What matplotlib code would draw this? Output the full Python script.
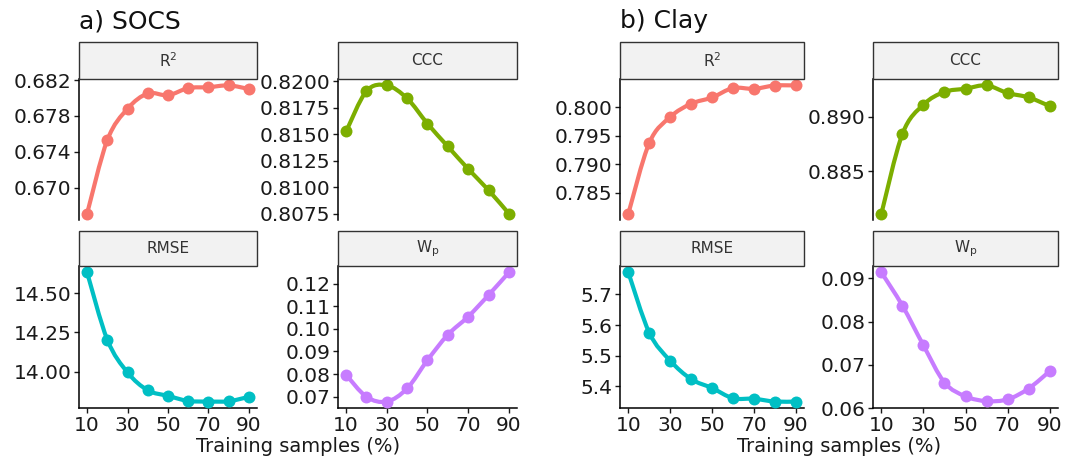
import matplotlib
matplotlib.use("Agg")
import matplotlib.pyplot as plt
from matplotlib.path import Path
from matplotlib.patches import PathPatch, Rectangle
import numpy as np

plt.rcParams["font.family"] = ["DejaVu Sans"]
plt.rcParams["mathtext.default"] = "regular"

W, H = 1065, 462

training_pct = [10, 20, 30, 40, 50, 60, 70, 80, 90]
x_ticks = [10, 30, 50, 70, 90]

# a) SOCS
socs_r2 = [0.6671, 0.6753, 0.6788, 0.6805, 0.6803, 0.6811, 0.6812, 0.6814, 0.6810]
socs_ccc = [0.81525, 0.81905, 0.81959, 0.81836, 0.81598, 0.81383, 0.81171, 0.80971, 0.8075]
socs_rmse = [14.633, 14.203, 13.994, 13.880, 13.844, 13.812, 13.808, 13.810, 13.838]
socs_wp = [0.0797, 0.0700, 0.0679, 0.0737, 0.0862, 0.0974, 0.1054, 0.1149, 0.1249]

# b) Clay
clay_r2 = [0.7813, 0.7937, 0.79825, 0.80058, 0.80168, 0.80333, 0.8032, 0.80378, 0.8038]
clay_ccc = [0.88111, 0.88844, 0.89113, 0.8923, 0.8926, 0.8929, 0.8922, 0.8918, 0.8910]
clay_rmse = [5.771, 5.575, 5.484, 5.424, 5.395, 5.362, 5.360, 5.351, 5.351]
clay_wp = [0.0914, 0.0837, 0.0745, 0.0659, 0.0627, 0.0616, 0.0620, 0.0645, 0.0685]

# y-axis tick values and their label format
socs_r2_ticks = [0.670, 0.674, 0.678, 0.682]
socs_ccc_ticks = [0.8075, 0.8100, 0.8125, 0.8150, 0.8175, 0.8200]
socs_rmse_ticks = [14.00, 14.25, 14.50]
socs_wp_ticks = [0.07, 0.08, 0.09, 0.10, 0.11, 0.12]
clay_r2_ticks = [0.785, 0.790, 0.795, 0.800]
clay_ccc_ticks = [0.885, 0.890]
clay_rmse_ticks = [5.4, 5.5, 5.6, 5.7]
clay_wp_ticks = [0.06, 0.07, 0.08, 0.09]

metric_labels = ["R$^{2}$", "CCC", "RMSE", "W$_{p}$"]
metric_colors = ["#F8766D", "#7CAE00", "#00BFC4", "#C77CFF"]

fig = plt.figure(figsize=(W / 100, H / 100), dpi=100)


def rect(x0, x1, ytop, ybot):
    return [x0 / W, 1 - ybot / H, (x1 - x0) / W, (ybot - ytop) / H]


def smooth_path(xs, ys):
    """Catmull-Rom curve through the points, as cubic Bezier segments."""
    p = np.column_stack([xs, ys]).astype(float)
    ext = np.vstack([p[0], p, p[-1]])
    verts = [p[0]]
    codes = [Path.MOVETO]
    for i in range(len(p) - 1):
        p0, p1, p2, p3 = ext[i], ext[i + 1], ext[i + 2], ext[i + 3]
        c1 = p1 + (p2 - p0) / 6.0
        c2 = p2 - (p3 - p1) / 6.0
        verts += [c1, c2, p2]
        codes += [Path.CURVE4] * 3
    return Path(verts, codes)


def panel(box, strip_h, values, ticks, fmt, label, color, bottom_row):
    ax = fig.add_axes(rect(*box))
    lo, hi = min(values), max(values)
    pad = 0.05 * (hi - lo)
    ax.add_patch(PathPatch(smooth_path(training_pct, values), facecolor="none",
                           edgecolor=color, lw=3.0, capstyle="round",
                           joinstyle="round", zorder=2))
    ax.plot(training_pct, values, "o", color=color, ms=8.6, mew=0, zorder=3)
    ax.set_xlim(6, 94)
    ax.set_ylim(lo - pad, hi + pad)
    ax.set_yticks(ticks)
    ax.set_yticklabels([fmt.format(t) for t in ticks])
    for side in ("top", "right"):
        ax.spines[side].set_visible(False)
    ax.spines["left"].set_linewidth(1.1)
    ax.tick_params(axis="y", length=3.5, width=1.0, pad=2.0, labelsize=14.5,
                   colors="#1a1a1a")
    if bottom_row:
        ax.spines["bottom"].set_linewidth(1.1)
        ax.set_xticks(x_ticks)
        ax.tick_params(axis="x", length=3.5, width=1.0, pad=2.5, labelsize=14.5,
                       colors="#1a1a1a")
    else:
        ax.spines["bottom"].set_visible(False)
        ax.set_xticks([])
    ax_h = box[3] - box[2]
    sh = strip_h / ax_h
    ax.add_patch(Rectangle((0, 1), 1, sh, transform=ax.transAxes,
                           facecolor="#F2F2F2", edgecolor="#333333", lw=1.0,
                           clip_on=False, zorder=5))
    ax.text(0.5, 1 + sh / 2, label, transform=ax.transAxes, ha="center",
            va="center", fontsize=11, color="#333333", zorder=6)
    return ax


groups = [
    ("a) SOCS", 79, [socs_r2, socs_ccc, socs_rmse, socs_wp],
     [socs_r2_ticks, socs_ccc_ticks, socs_rmse_ticks, socs_wp_ticks],
     ["{:.3f}", "{:.4f}", "{:.2f}", "{:.2f}"],
     [(79, 257), (338, 517)]),
    ("b) Clay", 620, [clay_r2, clay_ccc, clay_rmse, clay_wp],
     [clay_r2_ticks, clay_ccc_ticks, clay_rmse_ticks, clay_wp_ticks],
     ["{:.3f}", "{:.3f}", "{:.1f}", "{:.2f}"],
     [(620, 804), (873, 1058)]),
]

rows = [(79, 220, 37, False), (266, 408, 35, True)]

for title, tx, series, tick_sets, fmts, cols in groups:
    for k in range(4):
        r, c = divmod(k, 2)
        ytop, ybot, sh, bottom = rows[r]
        x0, x1 = cols[c]
        panel((x0, x1, ytop, ybot), sh, series[k], tick_sets[k], fmts[k],
              metric_labels[k], metric_colors[k], bottom)
    fig.text(tx / W, 1 - 28 / H, title, ha="left", va="baseline",
             fontsize=18, color="#111111")
    xc = (cols[0][0] + cols[1][1]) / 2
    fig.text(xc / W, 1 - 452 / H, "Training samples (%)", ha="center",
             va="baseline", fontsize=14, color="#1a1a1a")

fig.savefig("out.png", dpi=100)
